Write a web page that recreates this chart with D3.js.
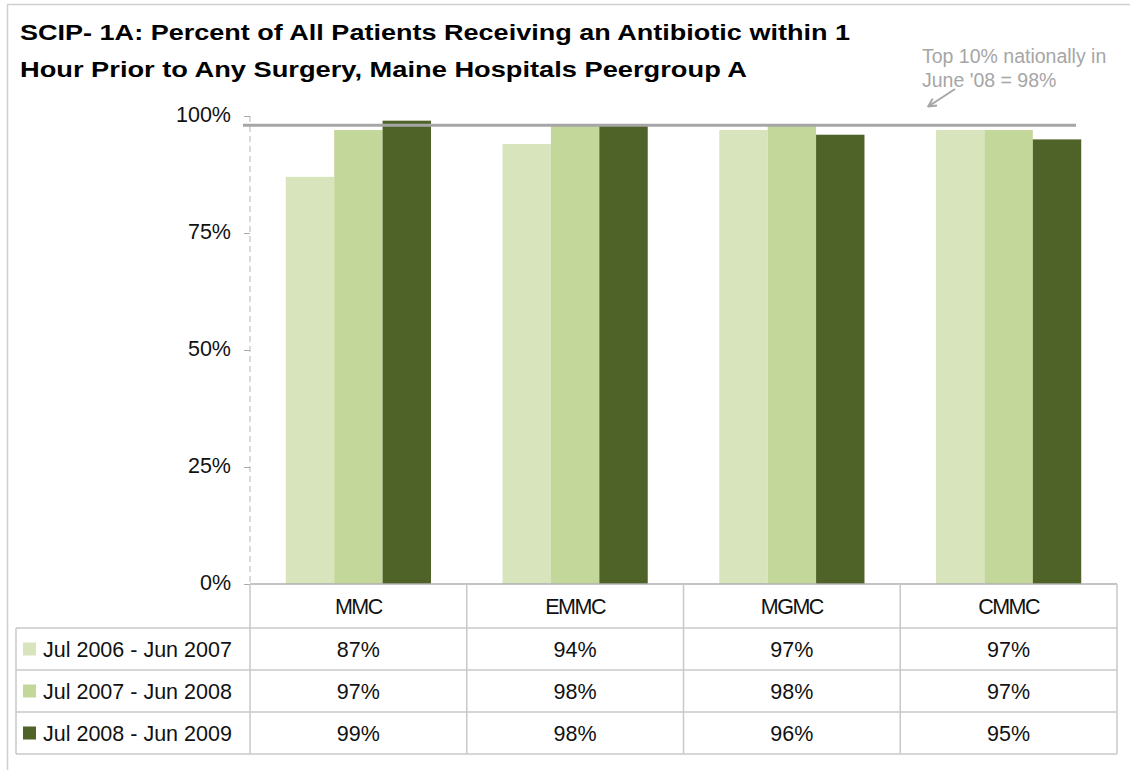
<!DOCTYPE html>
<html><head><meta charset="utf-8">
<script src="https://cdn.jsdelivr.net/npm/d3@7"></script>
<style>body{margin:0;background:#fff}svg{display:block;font-family:"Liberation Sans",Arial,sans-serif}</style>
</head><body><svg id="c" width="1130" height="770"></svg>
<script>
const categories = ["MMC", "EMMC", "MGMC", "CMMC"];
const seriesNames = ["Jul 2006 - Jun 2007", "Jul 2007 - Jun 2008", "Jul 2008 - Jun 2009"];
const s2007 = [87, 94, 97, 97];
const s2008 = [97, 98, 98, 97];
const s2009 = [99, 98, 96, 95];
const seriesValues = [s2007, s2008, s2009];
const colors = ["#d8e4bc", "#c4d79b", "#4f6228"];
const yTicks = [0, 25, 50, 75, 100];
const benchmark = 98;
const titleLines = ["SCIP- 1A:  Percent of All Patients Receiving an Antibiotic within 1", "Hour Prior to Any Surgery, Maine Hospitals Peergroup A"];
const noteLines = ["Top 10% nationally in", "June '08 = 98%"];

const svg = d3.select("#c");
const L = 250, R = 1117, T = 116, B = 584;
const rowH = 42, headH = 44, legL = 16;
const FS = 21.5;

// outer frame
svg.append("rect").attr("x", 7.5).attr("y", 4.5).attr("width", 1140).attr("height", 800)
  .attr("fill", "none").attr("stroke", "#d0d0d0").attr("stroke-width", 1.5);

// title
const titleW = [830, 727];
svg.append("g").selectAll("text").data(titleLines).join("text")
  .attr("x", 20).attr("y", (d, i) => 40 + i * 37)
  .attr("textLength", (d, i) => titleW[i]).attr("lengthAdjust", "spacingAndGlyphs")
  .attr("font-size", 22.5).attr("font-weight", "bold").attr("fill", "#000").text(d => d);

const y = d3.scaleLinear().domain([0, 100]).range([B, T]);
const x0 = d3.scaleBand().domain(categories).range([L, R]).paddingInner(0.33).paddingOuter(0.165);
const x1 = d3.scaleBand().domain(d3.range(seriesNames.length)).range([0, x0.bandwidth()]);
const xCol = d3.scaleBand().domain(categories).range([L, R]);

// y axis
const yAxis = d3.axisLeft(y).tickValues(yTicks).tickFormat(d => d + "%").tickSize(6).tickPadding(13);
const ga = svg.append("g").attr("transform", `translate(${L},0)`).call(yAxis);
ga.attr("font-size", FS).attr("font-family", '"Liberation Sans",Arial,sans-serif');
ga.select(".domain").attr("stroke", "#b5b5b5").attr("stroke-dasharray", "6,4").attr("d", `M0,${T}V${B}`);
ga.selectAll(".tick line").attr("stroke", "#aaa");
ga.selectAll(".tick text").attr("fill", "#111").attr("dy", "0.25em");

// bars
const groups = svg.append("g").selectAll("g").data(categories).join("g")
  .attr("transform", d => `translate(${x0(d)},0)`);
groups.selectAll("rect").data((c, ci) => seriesValues.map((s, si) => ({si, v: s[ci]}))).join("rect")
  .attr("x", d => x1(d.si)).attr("width", x1.bandwidth())
  .attr("y", d => y(d.v)).attr("height", d => B - y(d.v)).attr("fill", d => colors[d.si]);

// benchmark line
svg.append("line").attr("x1", 243).attr("x2", 1076).attr("y1", y(benchmark)).attr("y2", y(benchmark))
  .attr("stroke", "#a6a6a6").attr("stroke-width", 3);

// annotation
svg.append("g").selectAll("text").data(noteLines).join("text")
  .attr("x", 922).attr("y", (d, i) => 63 + i * 24)
  .attr("font-size", 19.5).attr("fill", "#a6a6a6").text(d => d);
svg.append("defs").append("marker").attr("id", "ah").attr("viewBox", "0 0 10 10").attr("refX", 8).attr("refY", 5)
  .attr("markerWidth", 5).attr("markerHeight", 5).attr("orient", "auto")
  .append("path").attr("d", "M1,1L9,5L1,9").attr("fill", "none").attr("stroke", "#a6a6a6").attr("stroke-width", 2);
svg.append("line").attr("x1", 955).attr("y1", 89).attr("x2", 929).attr("y2", 106)
  .attr("stroke", "#a6a6a6").attr("stroke-width", 2).attr("marker-end", "url(#ah)");

// data table
const tb = svg.append("g").attr("font-size", FS).attr("fill", "#111");
const gridC = "#c8c8c8";
const rowsY = d3.range(seriesNames.length + 1).map(i => B + headH + i * rowH);
tb.append("line").attr("x1", L).attr("x2", R).attr("y1", B).attr("y2", B).attr("stroke", "#b0b0b0").attr("stroke-width", 1.5);
tb.selectAll(".h").data(rowsY).join("line").attr("class", "h")
  .attr("x1", legL).attr("x2", R).attr("y1", d => d).attr("y2", d => d).attr("stroke", gridC).attr("stroke-width", 1.5);
tb.selectAll(".v").data(categories).join("line").attr("class", "v")
  .attr("x1", d => xCol(d)).attr("x2", d => xCol(d)).attr("y1", B).attr("y2", rowsY[rowsY.length - 1])
  .attr("stroke", gridC).attr("stroke-width", 1.5);
tb.append("line").attr("x1", R).attr("x2", R).attr("y1", B).attr("y2", rowsY[rowsY.length - 1]).attr("stroke", gridC).attr("stroke-width", 1.5);
tb.append("line").attr("x1", legL).attr("x2", legL).attr("y1", rowsY[0]).attr("y2", rowsY[rowsY.length - 1]).attr("stroke", gridC).attr("stroke-width", 1.5);
tb.selectAll(".cat").data(categories).join("text").attr("class", "cat")
  .attr("x", d => xCol(d) + xCol.bandwidth() / 2).attr("y", B + headH / 2 + 8)
  .attr("text-anchor", "middle").attr("letter-spacing", -1.5).text(d => d);
seriesNames.forEach((name, si) => {
  const ry = rowsY[si];
  tb.append("rect").attr("x", 23).attr("y", ry + rowH / 2 - 6.5).attr("width", 13).attr("height", 13).attr("fill", colors[si]);
  tb.append("text").attr("x", 43).attr("y", ry + rowH / 2 + 8).text(name);
  tb.selectAll(".v" + si).data(seriesValues[si]).join("text")
    .attr("x", (d, ci) => xCol(categories[ci]) + xCol.bandwidth() / 2).attr("y", ry + rowH / 2 + 8)
    .attr("text-anchor", "middle").text(d => d + "%");
});
</script></body></html>
